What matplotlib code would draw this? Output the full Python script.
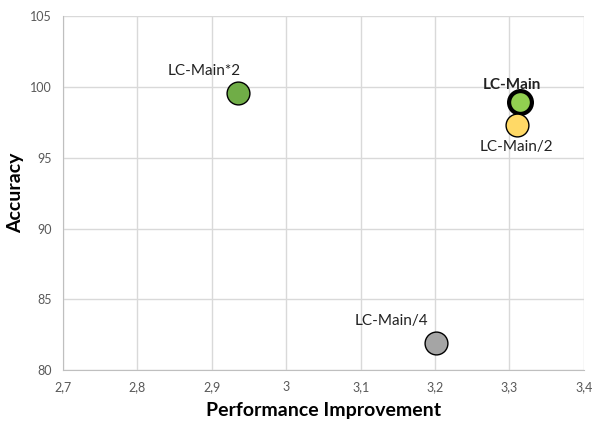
import matplotlib
matplotlib.use("Agg")
import matplotlib.pyplot as plt

plt.rcParams["font.family"] = ["Lato", "DejaVu Sans"]

# данные
names = ["LC-Main*2", "LC-Main", "LC-Main/2", "LC-Main/4"]
perf = [2.935, 3.314, 3.310, 3.201]
acc = [99.55, 98.95, 97.3, 81.9]
colors = ["#70AD47", "#92D050", "#FFD966", "#A5A5A5"]
x_ticks = [2.7, 2.8, 2.9, 3.0, 3.1, 3.2, 3.3, 3.4]
x_tick_labels = ["2,7", "2,8", "2,9", "3", "3,1", "3,2", "3,3", "3,4"]
y_ticks = [80, 85, 90, 95, 100, 105]

# подписи: смещение в пунктах и жирность
label_offsets = [(-24, 16), (-6, 12), (0, -16), (-32, 16)]
label_bold = [False, True, False, False]

fig = plt.figure(figsize=(5.94, 4.24), dpi=100)
ax = fig.add_axes([0.106, 0.127, 0.877, 0.835])

for i, name in enumerate(names):
    edge_w = 3.0 if label_bold[i] else 1.0
    ax.scatter(perf[i], acc[i], s=270, color=colors[i], edgecolor="black",
               linewidth=edge_w, zorder=3)
    ax.annotate(name, (perf[i], acc[i]), xytext=label_offsets[i],
                textcoords="offset points", ha="center", va="center",
                fontsize=11, fontweight="bold" if label_bold[i] else "normal",
                color="#222222", zorder=4)

ax.set_xlim(2.7, 3.4)
ax.set_ylim(80, 105)
ax.set_xticks(x_ticks)
ax.set_xticklabels(x_tick_labels)
ax.set_yticks(y_ticks)
ax.grid(True, color="#D9D9D9", linewidth=1)
ax.set_axisbelow(True)
for side in ["top", "right"]:
    ax.spines[side].set_visible(False)
for side in ["left", "bottom"]:
    ax.spines[side].set_color("#BFBFBF")
ax.tick_params(length=0, labelsize=9, colors="#595959", pad=8)

ax.set_xlabel("Performance Improvement", fontsize=14, fontweight="bold", labelpad=6)
ax.set_ylabel("Accuracy", fontsize=14, fontweight="bold", labelpad=4)

fig.savefig("out.png", dpi=100)
